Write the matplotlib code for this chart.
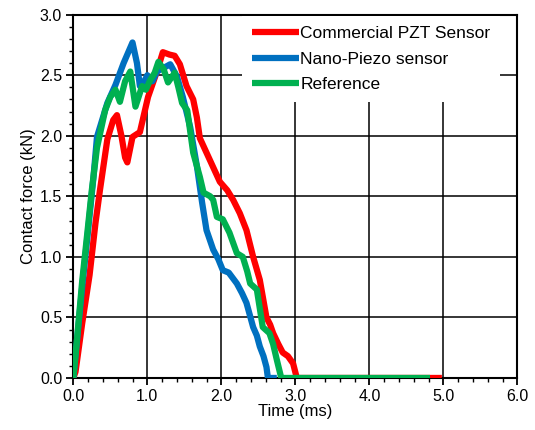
import numpy as np
import matplotlib.pyplot as plt
from matplotlib.ticker import MultipleLocator, FormatStrFormatter

plt.rcParams['font.family'] = ['Liberation Sans', 'DejaVu Sans']

# Commercial PZT sensor (time in ms, force in kN)
pzt_t = [0.0, 0.03, 0.12, 0.22, 0.30, 0.36, 0.46, 0.54, 0.59, 0.65, 0.70, 0.73, 0.77, 0.80,
         0.90, 1.01, 1.13, 1.21, 1.30, 1.37, 1.44, 1.53, 1.62, 1.67, 1.71, 1.80, 1.89, 1.98,
         2.08, 2.16, 2.25, 2.34, 2.43, 2.52, 2.61, 2.66, 2.70, 2.77, 2.83, 2.90, 2.97, 3.02,
         4.0, 4.98]
pzt_f = [0.0, 0.05, 0.45, 0.85, 1.28, 1.55, 1.97, 2.13, 2.17, 2.0, 1.82, 1.78, 1.90, 1.99,
         2.03, 2.32, 2.53, 2.69, 2.67, 2.66, 2.59, 2.41, 2.30, 2.15, 1.98, 1.86, 1.74, 1.62,
         1.55, 1.47, 1.36, 1.22, 1.00, 0.81, 0.50, 0.44, 0.37, 0.28, 0.21, 0.18, 0.12, 0.0,
         0.0, 0.0]

# Nano-Piezo sensor
nano_t = [0.0, 0.04, 0.13, 0.20, 0.27, 0.32, 0.40, 0.46, 0.57, 0.68, 0.80, 0.86, 0.90,
          0.96, 1.00, 1.07, 1.13, 1.22, 1.31, 1.40, 1.48, 1.58, 1.67, 1.74, 1.80, 1.89, 1.96,
          2.02, 2.10, 2.21, 2.28, 2.34, 2.43, 2.48, 2.52, 2.57, 2.61, 2.63, 2.75]
nano_f = [0.0, 0.25, 0.81, 1.22, 1.64, 1.99, 2.15, 2.27, 2.42, 2.60, 2.77, 2.60, 2.41,
          2.45, 2.50, 2.45, 2.53, 2.56, 2.59, 2.49, 2.32, 2.07, 1.75, 1.45, 1.22, 1.06, 0.98,
          0.89, 0.87, 0.78, 0.70, 0.62, 0.42, 0.35, 0.26, 0.18, 0.09, 0.0, 0.0]

# Reference
ref_t = [0.0, 0.04, 0.12, 0.19, 0.25, 0.32, 0.43, 0.50, 0.57, 0.63, 0.70, 0.77, 0.84,
         0.93, 0.98, 1.04, 1.10, 1.15, 1.22, 1.28, 1.37, 1.42, 1.47, 1.54, 1.62, 1.71, 1.76,
         1.85, 1.89, 1.94, 2.02, 2.11, 2.21, 2.29, 2.35, 2.39, 2.48, 2.56, 2.65, 2.70, 2.75,
         2.81, 4.0, 4.82]
ref_f = [0.0, 0.25, 0.80, 1.20, 1.55, 1.90, 2.21, 2.32, 2.38, 2.28, 2.45, 2.53, 2.24,
         2.41, 2.38, 2.46, 2.52, 2.61, 2.55, 2.44, 2.52, 2.40, 2.27, 2.21, 1.86, 1.66, 1.53,
         1.50, 1.47, 1.33, 1.31, 1.20, 1.03, 1.00, 0.88, 0.78, 0.73, 0.42, 0.37, 0.28, 0.15,
         0.0, 0.0, 0.0]

fig = plt.figure(figsize=(5.35, 4.30), dpi=100)
ax = fig.add_axes([0.137, 0.121, 0.830, 0.845])

lw = 4.5
ax.plot(pzt_t, pzt_f, color='#ff0000', lw=lw, label='Commercial PZT Sensor',
        solid_joinstyle='round', solid_capstyle='butt', zorder=3)
ax.plot(nano_t, nano_f, color='#0070c0', lw=lw, label='Nano-Piezo sensor',
        solid_joinstyle='round', solid_capstyle='butt', zorder=4)
ax.plot(ref_t, ref_f, color='#00b050', lw=lw, label='Reference',
        solid_joinstyle='round', solid_capstyle='butt', zorder=5)

ax.set_xlim(0, 6)
ax.set_ylim(0, 3)
ax.xaxis.set_major_locator(MultipleLocator(1.0))
ax.xaxis.set_minor_locator(MultipleLocator(0.2))
ax.yaxis.set_major_locator(MultipleLocator(0.5))
ax.yaxis.set_minor_locator(MultipleLocator(0.1))
ax.xaxis.set_major_formatter(FormatStrFormatter('%.1f'))
ax.yaxis.set_major_formatter(FormatStrFormatter('%.1f'))

ax.grid(True, which='major', color='black', lw=1.1, zorder=1)
ax.set_axisbelow(True)
for s in ax.spines.values():
    s.set_linewidth(1.5)
ax.tick_params(which='major', direction='out', length=5, width=1.3, labelsize=11.5, pad=3)
ax.tick_params(which='minor', direction='out', length=3, width=1.0)
ax.tick_params(top=False, right=False, which='both')

ax.set_xlabel('Time (ms)', fontsize=12, labelpad=0)
ax.set_ylabel('Contact force (kN)', fontsize=12, labelpad=3)

leg = ax.legend(loc='upper left', bbox_to_anchor=(0.38, 0.995), fontsize=12.5,
                handlelength=2.75, handletextpad=0.05, labelspacing=0.6,
                borderpad=0.55, borderaxespad=0.0, frameon=True, fancybox=False)
leg.get_frame().set_edgecolor('none')
leg.get_frame().set_facecolor('white')
leg.get_frame().set_alpha(1.0)
leg.set_zorder(10)

fig.savefig('out.png', dpi=100)
